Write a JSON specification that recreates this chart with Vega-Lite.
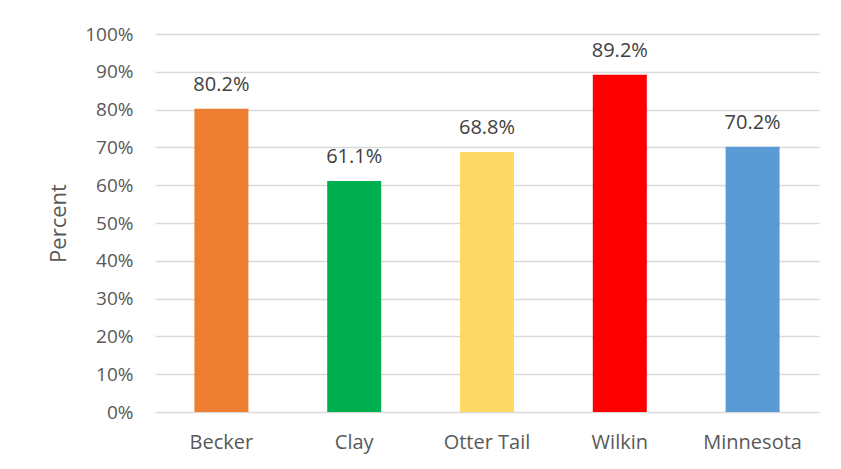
{
  "$schema": "https://vega.github.io/schema/vega-lite/v6.json",
  "autosize": "none",
  "width": 664,
  "height": 378,
  "padding": {"left": 155, "top": 34, "right": 22, "bottom": 57},
  "background": "white",
  "config": {
    "view": {"stroke": null},
    "font": "Open Sans"
  },
  "data": {
    "values": [
      {"county": "Becker", "pct": 0.802},
      {"county": "Clay", "pct": 0.611},
      {"county": "Otter Tail", "pct": 0.688},
      {"county": "Wilkin", "pct": 0.892},
      {"county": "Minnesota", "pct": 0.702}
    ]
  },
  "encoding": {
    "x": {
      "field": "county",
      "type": "nominal",
      "sort": null,
      "scale": {"paddingInner": 0, "paddingOuter": 0},
      "axis": {
        "title": null,
        "labelAngle": 0,
        "labelFont": "Open Sans",
        "labelFontSize": 20,
        "labelColor": "#595959",
        "labelPadding": 20,
        "ticks": false,
        "domain": false
      }
    },
    "y": {
      "field": "pct",
      "type": "quantitative",
      "scale": {"domain": [0, 1], "nice": false},
      "axis": {
        "title": "Percent",
        "titleFont": "Open Sans",
        "titleFontSize": 22,
        "titleFontWeight": "normal",
        "titleColor": "#595959",
        "titlePadding": 14,
        "values": [0, 0.1, 0.2, 0.3, 0.4, 0.5, 0.6, 0.7, 0.8, 0.9, 1.0],
        "format": ".0%",
        "labelFont": "Open Sans",
        "labelFontSize": 19,
        "labelColor": "#595959",
        "labelPadding": 22,
        "ticks": false,
        "domain": false,
        "grid": true,
        "gridColor": "#D9D9D9",
        "gridWidth": 1.3
      }
    }
  },
  "layer": [
    {
      "mark": {"type": "bar", "size": 54},
      "encoding": {
        "color": {
          "field": "county",
          "type": "nominal",
          "scale": {
            "domain": ["Becker", "Clay", "Otter Tail", "Wilkin", "Minnesota"],
            "range": ["#ED7D31", "#00B050", "#FFD966", "#FF0000", "#5B9BD5"]
          },
          "legend": null
        }
      }
    },
    {
      "mark": {
        "type": "text",
        "align": "center",
        "baseline": "alphabetic",
        "dy": -18,
        "font": "Open Sans",
        "fontSize": 20,
        "color": "#404040"
      },
      "encoding": {
        "text": {"field": "pct", "type": "quantitative", "format": ".1%"}
      }
    }
  ]
}
